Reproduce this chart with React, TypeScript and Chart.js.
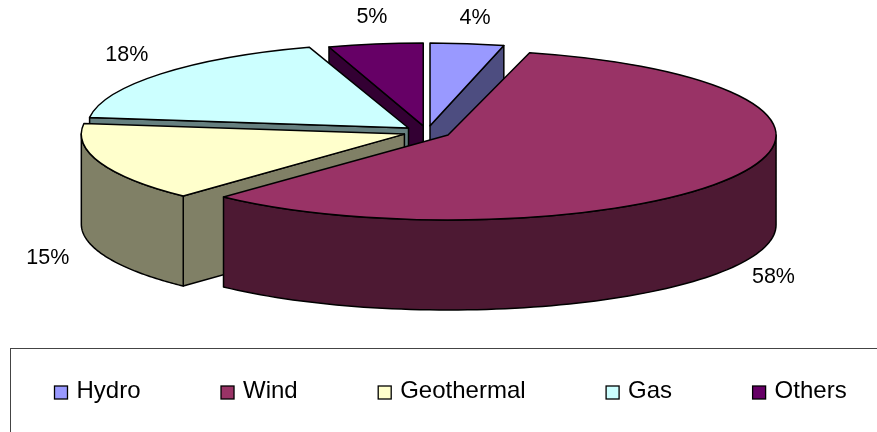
import React, { useEffect, useRef } from "react";
import { Chart, registerables } from "chart.js";

Chart.register(...registerables);

const categories = ["Hydro", "Wind", "Geothermal", "Gas", "Others"];
const shares = [4, 58, 15, 18, 5];
const topColors = ["#9999FF", "#993366", "#FFFFCC", "#CCFFFF", "#660066"];
const sideColors = ["#4D4D80", "#4D1933", "#808066", "#668080", "#330033"];

// Slices are painted back to front so the nearer walls cover the farther ones.
const paintOrder = [4, 0, 3, 2, 1];

// Slices toward the back of the tilted pie read slightly narrower and flatter.
const widthFactor = [0.905, 1, 0.985, 0.98, 0.93];
const heightFactor = [0.975, 1, 1, 1, 0.975];

const FONT = '"Liberation Sans", Arial, sans-serif';
const CENTER_X = 427;
const CENTER_Y = 132;
const RADIUS_X = 328;
const RADIUS_Y = 85;
const DEPTH = 90;
const EXPLODE = 0.0732;
const BASE_RADIUS = 100;
const OUTLINE = "#000000";

// Percent labels sit a little way out from the rim point at each slice's mid angle.
const labelNudge: [number, number][] = [
  [4, -23],
  [38, 11],
  [-48, 5],
  [-29, -19],
  [0, -25],
];

const pie3d = {
  id: "pie3d",
  beforeDraw(chart: any) {
    const ctx = chart.ctx;
    ctx.save();
    // Legend frame runs off the right and bottom of the canvas.
    ctx.strokeStyle = "#444444";
    ctx.lineWidth = 1;
    ctx.strokeRect(10.5, 348.5, 1000, 200);

    ctx.font = `24px ${FONT}`;
    ctx.textBaseline = "alphabetic";
    ctx.textAlign = "left";
    let x = 54.5;
    categories.forEach((name, i) => {
      ctx.fillStyle = topColors[i];
      ctx.fillRect(x, 386, 13, 13);
      ctx.strokeStyle = OUTLINE;
      ctx.lineWidth = 1.3;
      ctx.strokeRect(x, 386, 13, 13);
      ctx.fillStyle = "#000000";
      ctx.fillText(name, x + 22, 398);
      x += 22 + ctx.measureText(name).width + 80.5;
    });
    ctx.restore();
  },
  beforeDatasetsDraw(chart: any) {
    const ctx = chart.ctx;
    const arcs = chart.getDatasetMeta(0).data;

    const strokeShape = () => {
      ctx.strokeStyle = OUTLINE;
      ctx.lineWidth = 1.5;
      ctx.lineJoin = "round";
      ctx.stroke();
    };

    paintOrder.forEach((i) => {
      const arc = arcs[i];
      const { startAngle: a, endAngle: b, outerRadius: r, x: ex, y: ey } = arc;
      const sx = (RADIUS_X * widthFactor[i]) / BASE_RADIUS;
      const sy = (RADIUS_Y * heightFactor[i]) / BASE_RADIUS;
      const mid = (a + b) / 2;
      const ax = CENTER_X + Math.cos(mid) * EXPLODE * RADIUS_X;
      const ay = CENTER_Y + Math.sin(mid) * EXPLODE * RADIUS_Y;
      const rimX = (t: number) => ax + Math.cos(t) * r * sx;
      const rimY = (t: number) => ay + Math.sin(t) * r * sy;

      const wall = (t: number) => {
        ctx.beginPath();
        ctx.moveTo(ax, ay);
        ctx.lineTo(rimX(t), rimY(t));
        ctx.lineTo(rimX(t), rimY(t) + DEPTH);
        ctx.lineTo(ax, ay + DEPTH);
        ctx.closePath();
        ctx.fillStyle = sideColors[i];
        ctx.fill();
        strokeShape();
      };

      // Radial cut faces that turn toward the viewer.
      if (Math.cos(a) < 0) wall(a);
      if (Math.cos(b) > 0) wall(b);

      // Outer wall: only the front half of the rim is visible.
      const from = Math.max(a, 0);
      const to = Math.min(b, Math.PI);
      if (to > from) {
        const steps = 80;
        ctx.beginPath();
        for (let s = 0; s <= steps; s++) {
          const t = from + ((to - from) * s) / steps;
          ctx.lineTo(rimX(t), rimY(t));
        }
        for (let s = steps; s >= 0; s--) {
          const t = from + ((to - from) * s) / steps;
          ctx.lineTo(rimX(t), rimY(t) + DEPTH);
        }
        ctx.closePath();
        ctx.fillStyle = sideColors[i];
        ctx.fill();
        strokeShape();
      }

      // Top face: the library's own arc, squashed into an ellipse.
      ctx.save();
      ctx.translate(ax, ay);
      ctx.scale(sx, sy);
      ctx.translate(-ex, -ey);
      arc.draw(ctx);
      ctx.beginPath();
      ctx.moveTo(ex, ey);
      ctx.arc(ex, ey, r, a, b);
      ctx.closePath();
      ctx.restore();
      strokeShape();
    });

    // Percent labels.
    ctx.save();
    ctx.font = `21.5px ${FONT}`;
    ctx.fillStyle = "#000000";
    ctx.textAlign = "center";
    ctx.textBaseline = "middle";
    arcs.forEach((arc: any, i: number) => {
      const mid = (arc.startAngle + arc.endAngle) / 2;
      const k = 1 + EXPLODE;
      const px = CENTER_X + Math.cos(mid) * k * RADIUS_X;
      let py = CENTER_Y + Math.sin(mid) * k * RADIUS_Y;
      if (Math.sin(mid) > 0) py += DEPTH;
      ctx.fillText(`${shares[i]}%`, px + labelNudge[i][0], py + labelNudge[i][1]);
    });
    ctx.restore();
    return false;
  },
};

export default function App() {
  const ref = useRef<HTMLCanvasElement>(null);

  useEffect(() => {
    const chart = new Chart(ref.current!, {
      type: "pie",
      data: {
        labels: categories,
        datasets: [{ data: shares, backgroundColor: topColors, borderWidth: 0 }],
      },
      options: {
        animation: false,
        responsive: false,
        radius: BASE_RADIUS,
        plugins: { legend: { display: false }, tooltip: { enabled: false } },
      },
      plugins: [pie3d],
    } as any);
    return () => chart.destroy();
  }, []);

  return (
    <canvas
      ref={ref}
      width={877}
      height={432}
      style={{ position: "fixed", left: 0, top: 0, display: "block", background: "#ffffff" }}
    />
  );
}
